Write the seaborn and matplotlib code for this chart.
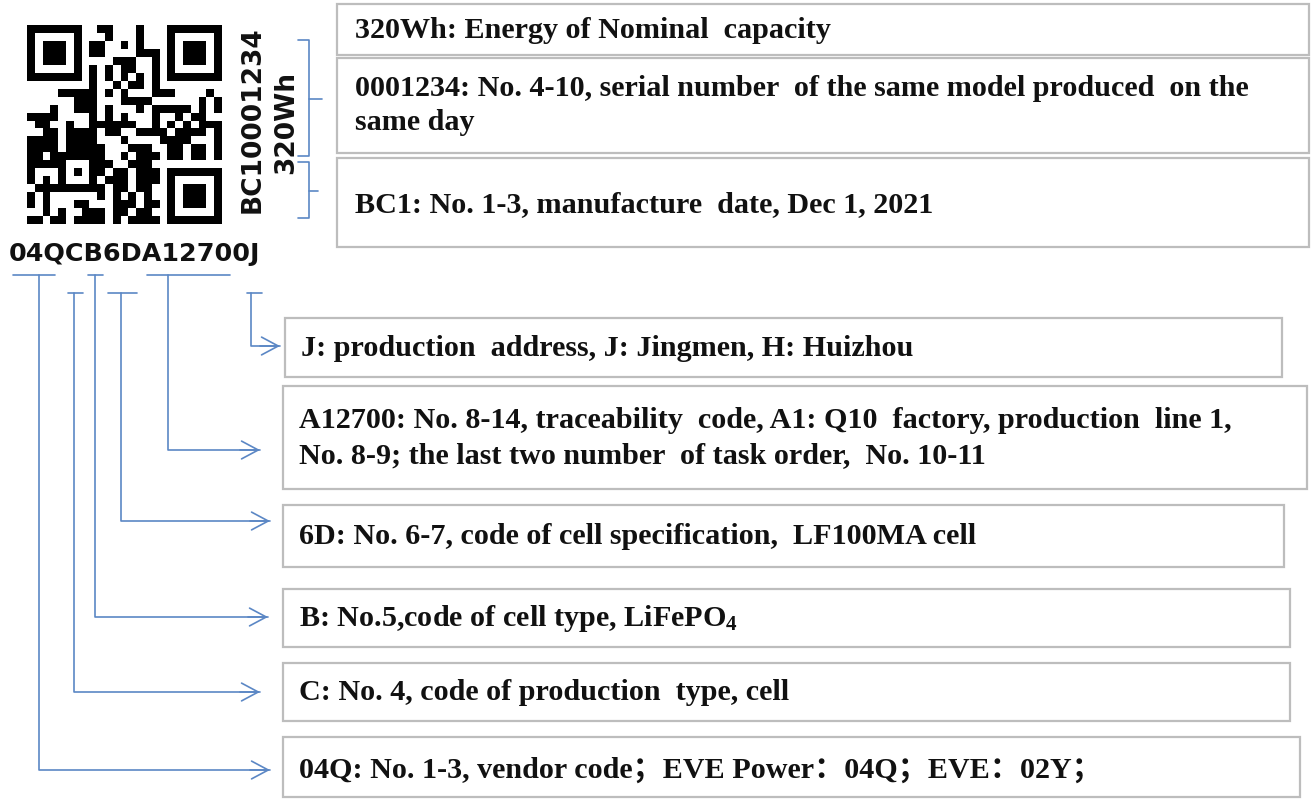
import matplotlib
matplotlib.use("Agg")
import numpy as np
import matplotlib.pyplot as plt
from matplotlib.colors import ListedColormap
from matplotlib.patches import Rectangle
import seaborn as sns

# ---------------- content ----------------
# QR modules (1 = black), read row by row from the label
QR_ROWS = [
    "1111111001100010001111111",
    "1000001000100010001000001",
    "1011101011001010001011101",
    "1011101011000011101011101",
    "1011101000011100101011101",
    "1000001010101100101000001",
    "1111111010101010101111111",
    "0000000010010110100000000",
    "0000111110101000111000010",
    "0000001110001111000000101",
    "0001001110100010111110101",
    "1111000010101000100101100",
    "0110010011111100101010111",
    "0011011110110011110111101",
    "1111011110001000011110001",
    "1111011111000111001101101",
    "1101111111001011101101101",
    "1111100011100111000000000",
    "1000101011011011101111111",
    "1010100010111011101000001",
    "0111111111011011001011101",
    "1010000001010101001011101",
    "1010001100011101101011101",
    "0010100111011011001000001",
    "1101101111010111101111111",
]
CODE = "04QCB6DA12700J"
SIDE_CODES = ["BC10001234", "320Wh"]

TOP_TEXTS = [
    ["320Wh: Energy of Nominal  capacity"],
    ["0001234: No. 4-10, serial number  of the same model produced  on the",
     "same day"],
    ["BC1: No. 1-3, manufacture  date, Dec 1, 2021"],
]
BOTTOM_TEXTS = [
    ["J: production  address, J: Jingmen, H: Huizhou"],
    ["A12700: No. 8-14, traceability  code, A1: Q10  factory, production  line 1,",
     "No. 8-9; the last two number  of task order,  No. 10-11"],
    ["6D: No. 6-7, code of cell specification,  LF100MA cell"],
    ["B: No.5,code of cell type, LiFePO$_4$"],
    ["C: No. 4, code of production  type, cell"],
    ["04Q: No. 1-3, vendor code；EVE Power：04Q；EVE：02Y；"],
]

# ---------------- layout (pixels, y down) ----------------
W, H = 1311, 799
TOP_BOXES = [(337, 4, 1309, 55), (337, 58, 1309, 153), (337, 158, 1309, 247)]
TOP_LINE_Y = [[30], [88, 123], [205]]
BOTTOM_BOXES = [(285, 318, 1282, 377), (283, 386, 1307, 489), (283, 505, 1284, 567),
                (283, 589, 1290, 647), (283, 663, 1290, 721), (283, 737, 1300, 797)]
BOTTOM_LINE_Y = [[349], [421, 456], [537], [618], [692], [770]]
# tick x0, tick x1, tick y, vertical x, arrow y, arrow tip x
CONNECTORS = [(247, 262, 293, 251, 346, 280),
              (147, 230, 275, 168, 450, 260),
              (108, 137, 293, 121, 521, 270),
              (88, 103, 275, 95, 617, 268),
              (68, 83, 293, 74, 692, 260),
              (13, 55, 275, 39, 770, 270)]
# arm x, spine x, top y, bottom y, middle y, nub x
BRACKETS = [(298, 309, 40, 156, 99, 322), (298, 309, 162, 218, 191, 318)]
QR_BOX = (27, 25, 222, 224)

BLUE = "#5b87c5"
EDGE = "#bdbdbd"

sns.set_theme(style="white")
plt.rcParams["font.family"] = ["Liberation Serif", "Noto Sans CJK SC", "DejaVu Sans"]
plt.rcParams["mathtext.fontset"] = "custom"
plt.rcParams["mathtext.rm"] = "Liberation Serif:bold"
plt.rcParams["mathtext.it"] = "Liberation Serif:bold"
plt.rcParams["mathtext.bf"] = "Liberation Serif:bold"

fig = plt.figure(figsize=(W / 100, H / 100), dpi=100)
ax = fig.add_axes([0, 0, 1, 1])
ax.set_xlim(0, W)
ax.set_ylim(H, 0)
ax.axis("off")

# QR code as a heatmap
qr = np.array([[int(ch) for ch in row] for row in QR_ROWS])
x0, y0, x1, y1 = QR_BOX
ax_qr = fig.add_axes([x0 / W, 1 - y1 / H, (x1 - x0) / W, (y1 - y0) / H])
sns.heatmap(qr, ax=ax_qr, cmap=ListedColormap(["white", "black"]), cbar=False,
            xticklabels=False, yticklabels=False, vmin=0, vmax=1)
ax_qr.axis("off")

# code under the QR and the two vertical codes
ax.text(135, 254, CODE, fontsize=18.3, fontweight="bold", family="DejaVu Sans",
        ha="center", va="center", color="#111111")
ax.text(253, 120, SIDE_CODES[0], fontsize=19, fontweight="bold", family="DejaVu Sans",
        rotation=90, ha="center", va="center", color="#111111")
ax.text(286, 122, SIDE_CODES[1], fontsize=19, fontweight="bold", family="DejaVu Sans",
        rotation=90, ha="center", va="center", color="#111111")

font = dict(fontsize=21.7, fontweight="bold", color="#111111", va="center", ha="left",
            family=["Liberation Serif", "Noto Sans CJK SC"])


def draw_box(box, lines, ys, tx):
    bx0, by0, bx1, by1 = box
    ax.add_patch(Rectangle((bx0, by0), bx1 - bx0, by1 - by0, fill=False,
                           edgecolor=EDGE, lw=1.6))
    for line, ty in zip(lines, ys):
        ax.text(tx, ty, line, **font)


for box, lines, ys in zip(TOP_BOXES, TOP_TEXTS, TOP_LINE_Y):
    draw_box(box, lines, ys, box[0] + 18)
for box, lines, ys in zip(BOTTOM_BOXES, BOTTOM_TEXTS, BOTTOM_LINE_Y):
    draw_box(box, lines, ys, box[0] + 16)

# brackets next to vertical codes
for arm, spine, top, bot, mid, nub in BRACKETS:
    ax.plot([arm, spine, spine, arm], [top, top, bot, bot], color=BLUE, lw=1.2)
    ax.plot([spine, nub], [mid, mid], color=BLUE, lw=1.2)

# connector lines with open arrows
for tx0, tx1, ty, vx, ay, tip in CONNECTORS:
    ax.plot([tx0, tx1], [ty, ty], color=BLUE, lw=1.2)
    ax.plot([vx, vx, tip], [ty, ay, ay], color=BLUE, lw=1.2)
    ax.annotate("", xy=(tip, ay), xytext=(tip - 20, ay),
                arrowprops=dict(arrowstyle="->,head_length=0.6,head_width=0.32",
                                color=BLUE, lw=1.2, mutation_scale=20,
                                shrinkA=0, shrinkB=0))

fig.savefig("out.png", dpi=100)
